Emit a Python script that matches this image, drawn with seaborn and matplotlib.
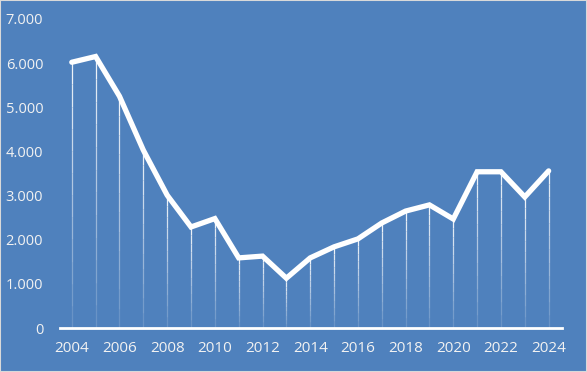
import matplotlib
matplotlib.use("Agg")
import matplotlib.pyplot as plt
import matplotlib.ticker as mticker
import seaborn as sns
import pandas as pd
import numpy as np

years = list(range(2004, 2025))
values = [6020, 6150, 5250, 4030, 3010, 2290, 2480, 1590, 1630, 1130, 1590,
          1840, 2020, 2380, 2650, 2790, 2470, 3540, 3540, 2970, 3560]
y_ticks = [0, 1000, 2000, 3000, 4000, 5000, 6000, 7000]
x_ticks = list(range(2004, 2025, 2))

bg = "#4F81BD"
sns.set_theme(style="white")
plt.rcParams["font.family"] = ["Open Sans", "DejaVu Sans"]

df = pd.DataFrame({"year": years, "value": values})

fig = plt.figure(figsize=(5.87, 3.72), dpi=100, facecolor=bg)
ax = fig.add_axes([0.102, 0.118, 0.855, 0.831])
ax.set_facecolor(bg)

# drop lines, fading towards the axis
n = 12
for k in range(n):
    lo = df["value"] * k / n
    hi = df["value"] * (k + 1) / n
    ax.vlines(df["year"], lo, hi, color="white", lw=0.9,
              alpha=0.15 + 0.75 * (k / (n - 1)))

sns.lineplot(data=df, x="year", y="value", ax=ax, color="white", lw=3.8,
             solid_joinstyle="miter", solid_capstyle="round")

ax.set_xlim(2003.5, 2024.55)
ax.set_ylim(0, 7000)
ax.set_xticks(x_ticks)
ax.set_yticks(y_ticks)
ax.yaxis.set_major_formatter(mticker.FuncFormatter(lambda v, p: f"{int(v):,}".replace(",", ".")))
ax.tick_params(colors="#F2F2F2", length=0)
ax.tick_params(axis="y", pad=12, labelsize=10.5)
ax.tick_params(axis="x", pad=9, labelsize=11)
for lbl in ax.get_xticklabels():
    lbl.set_fontstretch("expanded")
ax.set_xlabel("")
ax.set_ylabel("")
for s in ["top", "right", "left"]:
    ax.spines[s].set_visible(False)
ax.spines["bottom"].set_color("white")
ax.spines["bottom"].set_linewidth(2)
ax.grid(False)

fig.patches.append(plt.Rectangle((0, 0), 1, 1, transform=fig.transFigure,
                                 fill=False, edgecolor="#D9D9D9", lw=1.5))

fig.savefig("out.png", dpi=100, facecolor=bg)
